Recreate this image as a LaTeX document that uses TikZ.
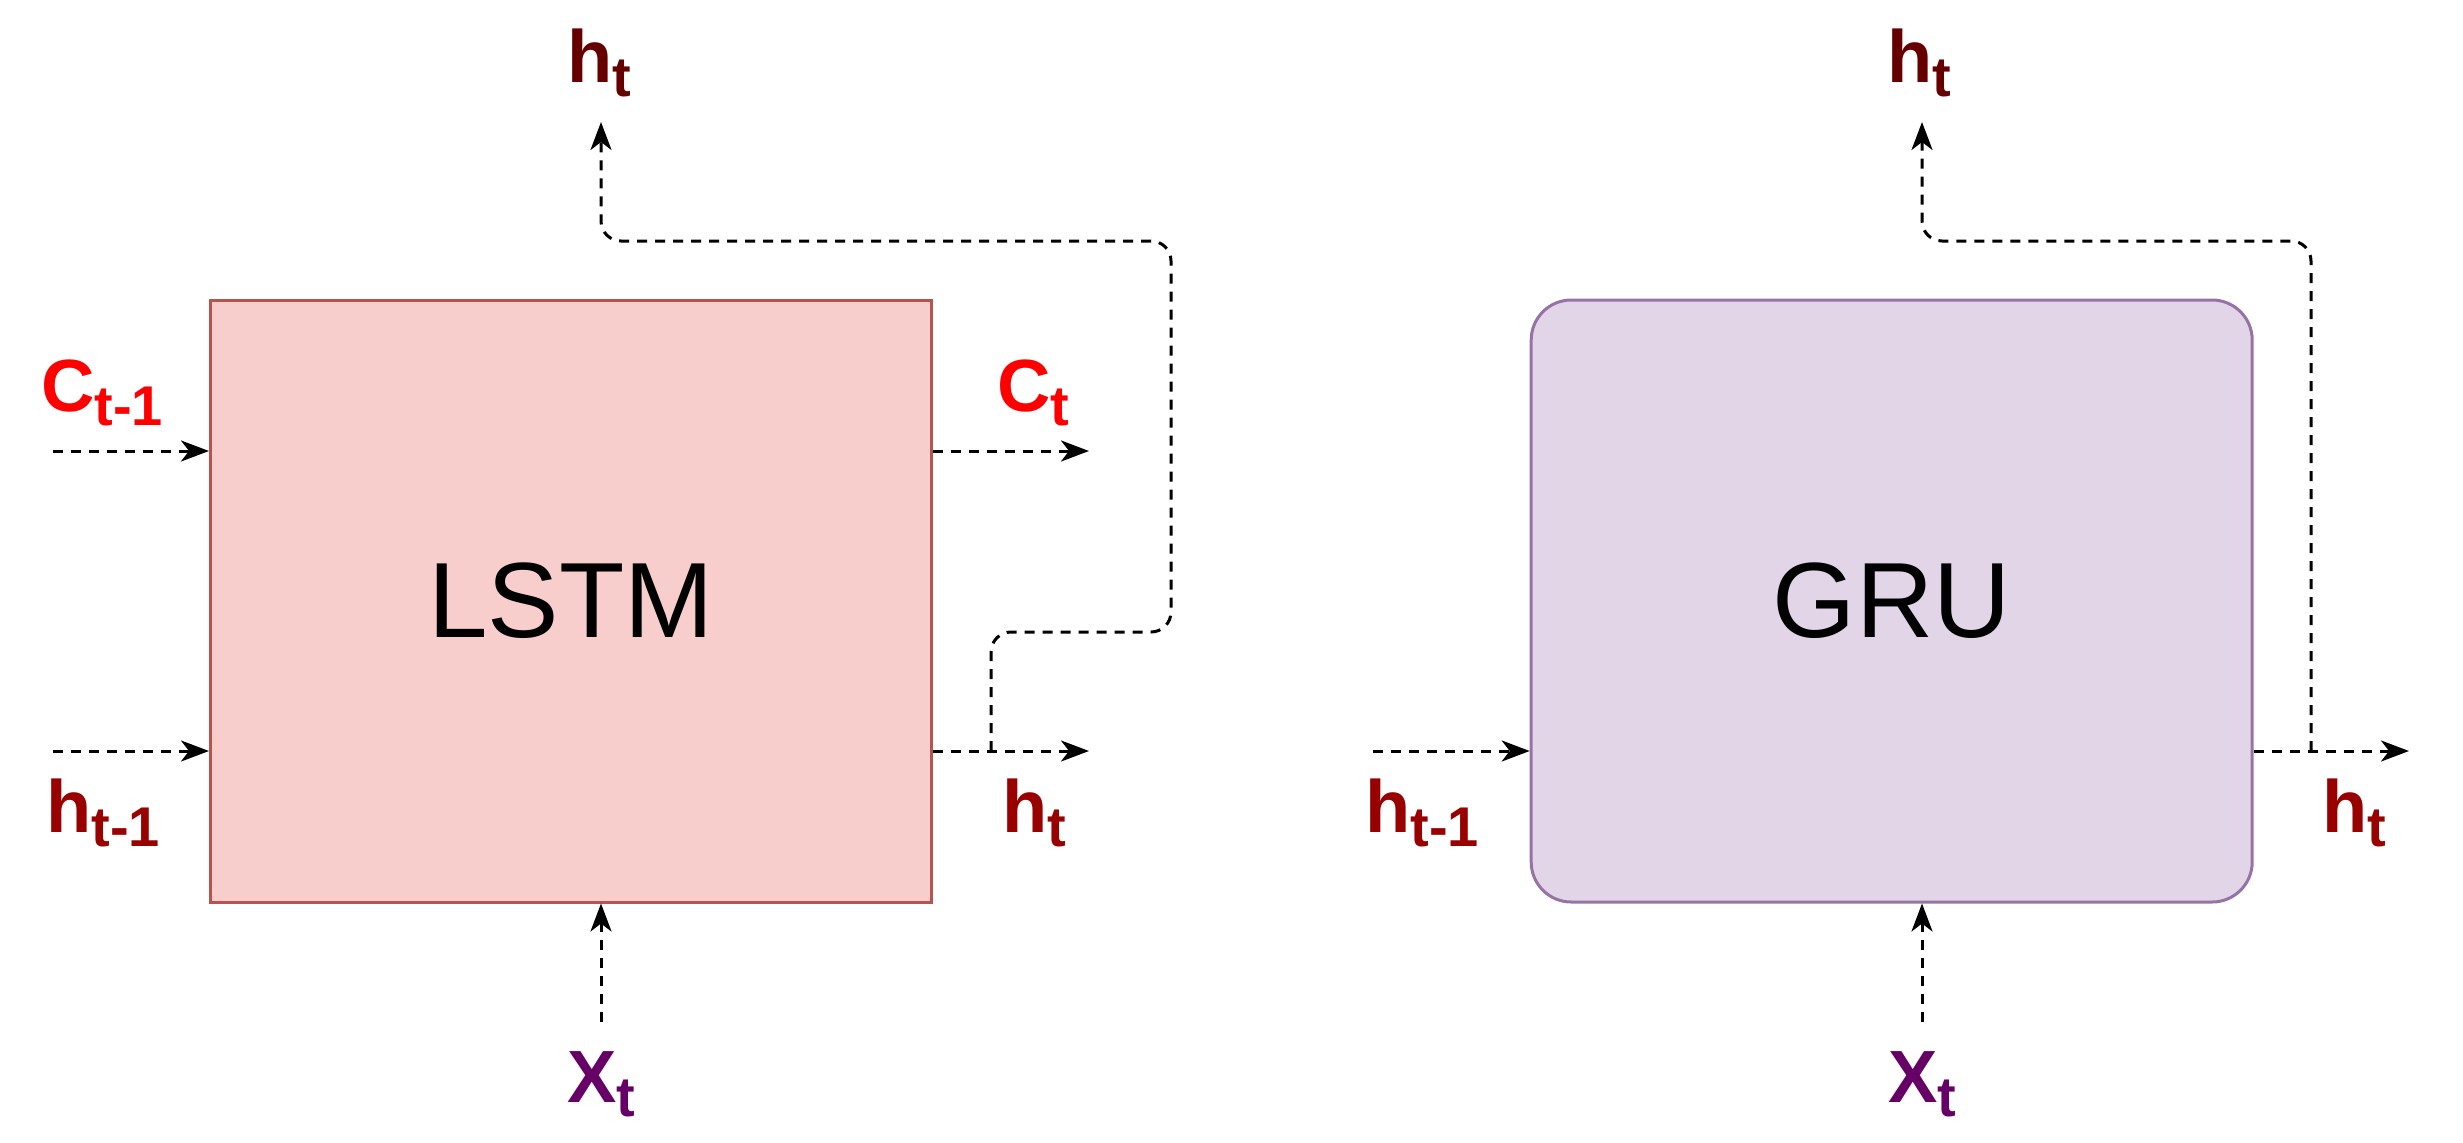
\documentclass[tikz,border=0pt]{standalone}
\usepackage{fontspec}
\setmainfont{Liberation Sans}
\usetikzlibrary{arrows.meta}
\definecolor{lstmfill}{HTML}{F8CECC}
\definecolor{lstmline}{HTML}{B85450}
\definecolor{grufill}{HTML}{E1D5E7}
\definecolor{gruline}{HTML}{9673A6}
\definecolor{hdark}{HTML}{660000}
\definecolor{hred}{HTML}{990000}
\definecolor{cred}{HTML}{FF0000}
\definecolor{xpurple}{HTML}{660066}
\newcommand{\lblsub}[1]{\raisebox{-14pt}{\fontsize{56}{56}\selectfont #1}}
\begin{document}
\begin{tikzpicture}[x=1pt,y=-1pt,
  cell/.style={line width=3pt, minimum width=721pt, minimum height=602pt, inner sep=0pt,
    font=\fontsize{107}{107}\selectfont},
  flow/.style={draw=black, line width=3pt, dash pattern=on 10pt off 8pt,
    -{Stealth[length=28pt,width=21pt,inset=8pt]}},
  loop/.style={flow, rounded corners=20pt},
  lab/.style={anchor=base west, inner sep=0pt, font=\fontsize{74}{74}\selectfont\bfseries}]
\useasboundingbox (0,0) rectangle (2463,1143);

% boxes
\node[cell, draw=lstmline, fill=lstmfill] (lstm) at (571,601) {LSTM};
\node[cell, draw=gruline, fill=grufill, rounded corners=40pt] (gru) at (1891.7,601) {GRU};

% labels
\node[lab, text=hdark] (lhtop) at (567,82) {h\lblsub{t}};
\node[lab, text=cred] (lcin) at (41,411) {C\lblsub{t-1}};
\node[lab, text=cred] (lcout) at (997,411) {C\lblsub{t}};
\node[lab, text=hred] (lhin) at (46,832) {h\lblsub{t-1}};
\node[lab, text=hred] (lhout) at (1002,832) {h\lblsub{t}};
\node[lab, text=xpurple] (lx) at (567,1102) {X\lblsub{t}};

\node[lab, text=hdark] (ghtop) at (1887,82) {h\lblsub{t}};
\node[lab, text=hred] (ghin) at (1365,832) {h\lblsub{t-1}};
\node[lab, text=hred] (ghout) at (2322,832) {h\lblsub{t}};
\node[lab, text=xpurple] (gx) at (1888,1102) {X\lblsub{t}};

% free ends
\coordinate (cinS) at (53,451);
\coordinate (coutE) at (1089,451);
\coordinate (hinS) at (53,751);
\coordinate (houtE) at (1089,751);
\coordinate (xS) at (601,1022);
\coordinate (lbr) at (991,751);
\coordinate (ltop) at (601,122);

\coordinate (ghinS) at (1373,751);
\coordinate (ghoutE) at (2409,751);
\coordinate (gxS) at (1922,1022);
\coordinate (gbr) at (2311,751);
\coordinate (gtop) at (1922,122);

% LSTM connectors
\draw[flow] (cinS) -- (lstm.west |- cinS);
\draw[flow] (hinS) -- (lstm.west |- hinS);
\draw[flow] (lstm.east |- cinS) -- (coutE);
\draw[flow] (lstm.east |- houtE) -- (houtE);
\draw[flow] (xS) -- (lstm.south -| xS);
\draw[loop] (lbr) -- (991,632) -- (1171,632) -- (1171,241) -- (601,241) -- (ltop);

% GRU connectors
\draw[flow] (ghinS) -- (gru.west |- ghinS);
\draw[flow] (gru.east |- ghoutE) -- (ghoutE);
\draw[flow] (gxS) -- (gru.south -| gxS);
\draw[loop] (gbr) -- (2311,241) -- (1922,241) -- (gtop);
\end{tikzpicture}
\end{document}
